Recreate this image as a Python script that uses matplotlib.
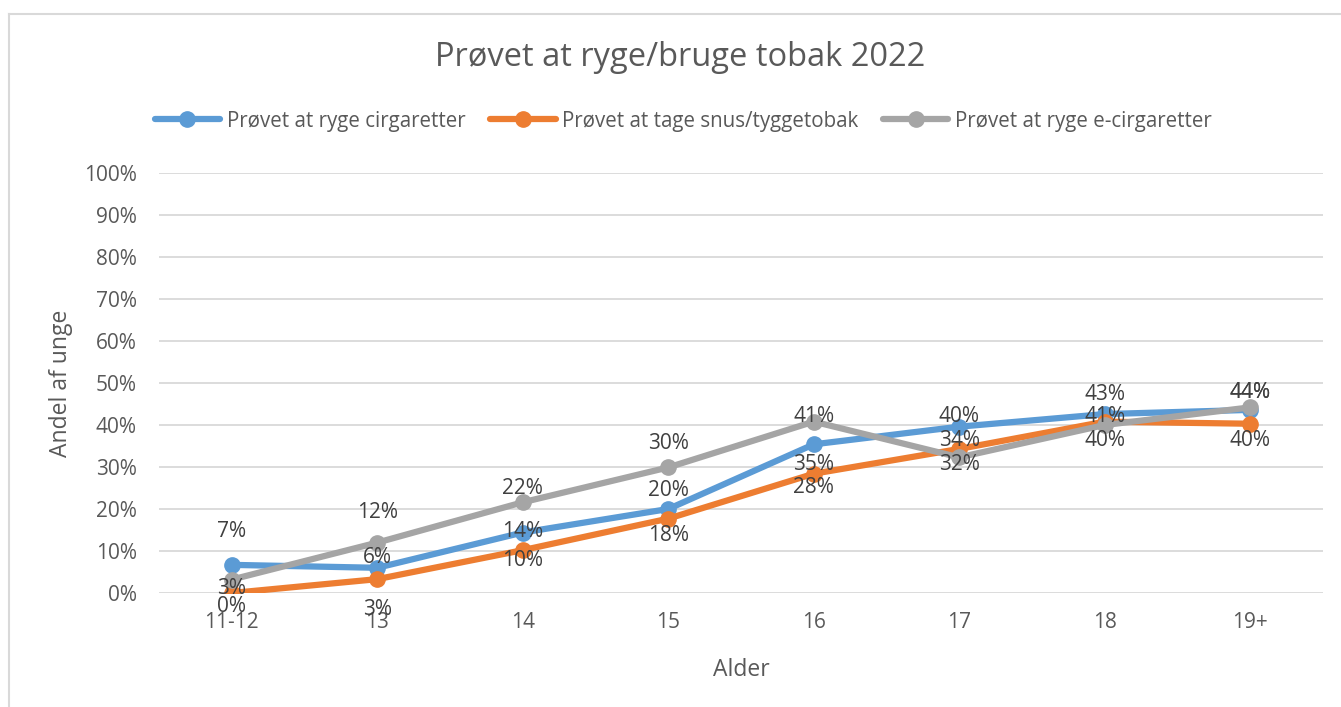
import matplotlib
matplotlib.use("Agg")
import matplotlib.pyplot as plt
from matplotlib.lines import Line2D
from matplotlib.ticker import FuncFormatter

# data
ages = ["11-12", "13", "14", "15", "16", "17", "18", "19+"]
cigaretter = [6.7, 6.0, 14.4, 20.0, 35.4, 39.6, 42.6, 43.6]
snus = [0.0, 3.3, 10.2, 17.7, 28.4, 34.3, 40.8, 40.3]
e_cigaretter = [3.2, 12.0, 21.6, 29.9, 40.8, 32.3, 40.0, 44.2]

series_names = ["Prøvet at ryge cirgaretter",
                "Prøvet at tage snus/tyggetobak",
                "Prøvet at ryge e-cirgaretter"]

# vertical label offsets in pixels (Excel nudged these by hand)
label_dy = {
    0: [33, 10, 1, 19, -20, 10, 20, 17.5],
    1: [-13, -30, -10, -17, -14, 8, 5, -17],
    2: [-9, 30, 14, 24, 5, -7, -15, 15],
}

TEXT = "#595959"
COLORS = ["#5B9BD5", "#ED7D31", "#A5A5A5"]
FONT = "Open Sans"

plt.rcParams["font.family"] = [FONT, "DejaVu Sans"]

fig = plt.figure(figsize=(13.41, 7.07), dpi=100)
W, H = 1341, 707
ax = fig.add_axes([159 / W, 1 - 593 / H, (1323 - 159) / W, (593 - 173) / H])

x = list(range(len(ages)))
all_series = [cigaretter, snus, e_cigaretter]
for i, (vals, name) in enumerate(zip(all_series, series_names)):
    ax.plot(x, vals, color=COLORS[i], lw=4.5, marker="o", ms=11,
            solid_capstyle="round", label=name, zorder=3 + i)
    for j, v in enumerate(vals):
        ax.annotate(f"{round(v):.0f}%", (j, v), xytext=(0, label_dy[i][j]),
                    textcoords="offset pixels", ha="center", va="center",
                    fontsize=15, color="#404040", zorder=10)

ax.set_xlim(-0.5, len(ages) - 0.5)
ax.set_ylim(0, 100)
ax.set_yticks(range(0, 101, 10))
ax.yaxis.set_major_formatter(FuncFormatter(lambda v, _: f"{v:.0f}%"))
ax.set_xticks(x)
ax.set_xticklabels(ages)
ax.tick_params(axis="both", length=0, labelsize=15, colors=TEXT)
ax.tick_params(axis="y", pad=16)
ax.tick_params(axis="x", pad=14)
ax.grid(axis="y", color="#D9D9D9", lw=1.3)
for s in ax.spines.values():
    s.set_visible(False)
ax.set_axisbelow(True)

ax.set_ylabel("Andel af unge", fontsize=16.5, color=TEXT, labelpad=8)
ax.set_xlabel("Alder", fontsize=16.5, color=TEXT, labelpad=18)

fig.text(680 / W, 1 - 58 / H, "Prøvet at ryge/bruge tobak 2022",
         ha="center", va="center", fontsize=23.5, color=TEXT)

leg = fig.legend(loc="center", bbox_to_anchor=(683 / W, 1 - 121 / H), ncol=3,
                 frameon=False, fontsize=14.8, handlelength=3.2,
                 columnspacing=1.2, handletextpad=0.3)
for t in leg.get_texts():
    t.set_color(TEXT)

# light chart-area frame
fig.add_artist(Line2D([9 / W, 9 / W], [0, 1 - 14 / H], color="#D9D9D9", lw=1.5))
fig.add_artist(Line2D([9 / W, 1], [1 - 14 / H, 1 - 14 / H], color="#D9D9D9", lw=1.5))

fig.savefig("out.png", dpi=100, facecolor="white")
